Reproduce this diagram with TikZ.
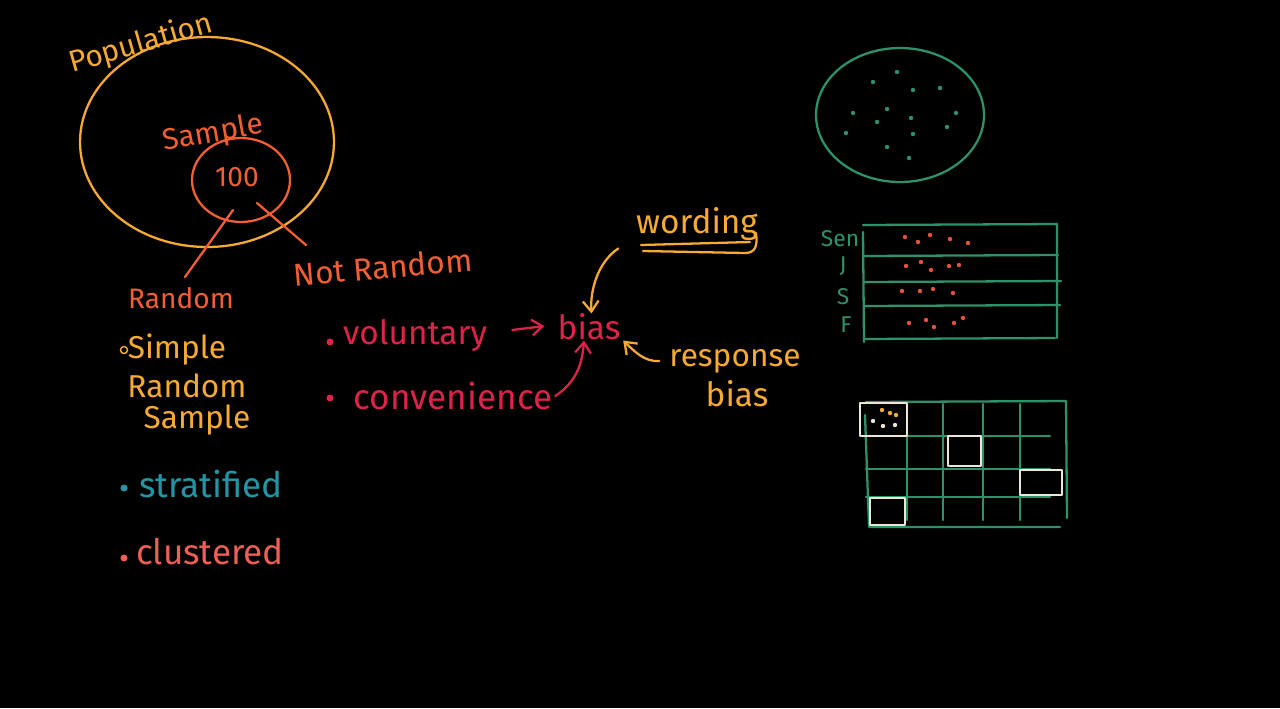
\documentclass[tikz,border=0pt]{standalone}
\usepackage{fontspec}
\setmainfont{Fira Sans}
\usetikzlibrary{arrows.meta}

\definecolor{popcol}{RGB}{247,170,50}
\definecolor{smpcol}{RGB}{242,95,50}
\definecolor{biascol}{RGB}{222,35,75}
\definecolor{stratcol}{RGB}{35,150,165}
\definecolor{clustcol}{RGB}{238,95,85}
\definecolor{gridcol}{RGB}{45,145,105}
\definecolor{dotcol}{RGB}{232,80,60}
\definecolor{chalk}{RGB}{235,230,215}

\begin{document}
\begin{tikzpicture}[
    x=0.02cm, y=-0.02cm,
    hand/.style={font=\fontsize{18}{20}\selectfont, inner sep=0pt},
    small/.style={font=\fontsize{13}{14}\selectfont, inner sep=0pt, text=gridcol},
    stroke/.style={line width=1.3pt, line cap=round, line join=round},
    arrow/.style={stroke, -{Straight Barb[length=6pt,width=9pt]}},
    dot/.style={circle, fill, inner sep=0pt, minimum size=3pt},
    bullet/.style={circle, fill, inner sep=0pt, minimum size=4pt}
]
    \fill[black] (0,0) rectangle (1280,708);
    \useasboundingbox (0,0) rectangle (1280,708);

    % population and sample
    \draw[stroke, popcol] (207,142) ellipse [x radius=2.54cm, y radius=2.1cm];
    \node[hand, text=popcol, rotate=16, font=\fontsize{17}{18}\selectfont] (pop) at (141,44) {Population};
    \draw[stroke, smpcol] (241,180) ellipse [x radius=0.98cm, y radius=0.84cm];
    \node[hand, text=smpcol, rotate=10, font=\fontsize{17}{18}\selectfont] (sample) at (213,134) {Sample};
    \node[hand, text=smpcol, font=\fontsize{16}{18}\selectfont] (count) at (237,177) {100};

    \node[hand, text=smpcol, font=\fontsize{16}{18}\selectfont] (random) at (181,298) {Random};
    \node[hand, text=smpcol, rotate=5] (notrandom) at (383,267) {Not Random};
    \coordinate (rndin) at (233,210);
    \coordinate (rndend) at (185,277);
    \coordinate (notin) at (257,203);
    \coordinate (notend) at (306,245);
    \draw[stroke, smpcol] (rndin) -- (rndend);
    \draw[stroke, smpcol] (notin) -- (notend);

    % sampling methods
    \node[circle, draw=popcol, line width=0.8pt, inner sep=0pt, minimum size=4pt] (b1) at (124,350) {};
    \node[hand, text=popcol] (simple) at (177,350) {Simple};
    \node[hand, text=popcol] (srs) at (187,386) {Random};
    \node[hand, text=popcol] (srs2) at (197,420) {Sample};
    \node[bullet, stratcol] (b2) at (124,488) {};
    \node[hand, text=stratcol, font=\fontsize{20}{22}\selectfont] (strat) at (211,484) {stratified};
    \node[bullet, clustcol] (b3) at (124,558) {};
    \node[hand, text=clustcol, font=\fontsize{20}{22}\selectfont] (clust) at (210,552) {clustered};

    % bias
    \node[bullet, biascol] (b4) at (330,342) {};
    \node[hand, text=biascol, font=\fontsize{19}{20}\selectfont] (volun) at (415,336) {voluntary};
    \node[bullet, biascol] (b5) at (330,398) {};
    \node[hand, text=biascol, font=\fontsize{20}{22}\selectfont] (conv) at (453,396) {convenience};
    \node[hand, text=biascol, font=\fontsize{19}{20}\selectfont] (bias) at (589,327) {bias};
    \node[hand, text=popcol, font=\fontsize{19}{20}\selectfont] (wording) at (697,224) {wording};
    \node[hand, text=popcol] (resp) at (735,361) {response};
    \node[hand, text=popcol, font=\fontsize{19}{20}\selectfont] (respbias) at (737,394) {bias};

    \draw[arrow, biascol] ([xshift=0.5cm, yshift=0.12cm]volun.east) -- ([xshift=-0.26cm, yshift=0.02cm]bias.west);
    \draw[arrow, biascol] ([xshift=0.05cm]conv.east) .. controls (575,383) and (582,366) .. ([xshift=-0.1cm]bias.south);
    \draw[arrow, popcol] ([xshift=-0.35cm,yshift=-0.15cm]wording.south west) .. controls (598,262) and (590,290) .. ([xshift=0.05cm]bias.north);
    \draw[arrow, popcol] ([xshift=-0.2cm]resp.west) .. controls (645,362) and (635,352) .. ([xshift=0.05cm]bias.south east);
    \draw[stroke, popcol] (641,245) -- (750,242);
    \draw[stroke, popcol] (643,251) -- (745,253) .. controls (755,253) and (758,246) .. (756,233);

    % population of dots
    \draw[stroke, gridcol] (900,115) ellipse [x radius=1.68cm, y radius=1.34cm];
    \foreach \px/\py in {897/72, 873/82, 913/90, 940/88, 853/113, 887/109, 877/122, 911/118,
                         956/113, 947/127, 846/133, 913/134, 887/147, 909/158}
        \node[dot, gridcol, minimum size=2.5pt] at (\px,\py) {};

    % strata
    \draw[stroke, gridcol] (863,225) -- (1057,224) -- (1057,338);
    \draw[stroke, gridcol] (863,232) -- (864,342);
    \foreach \ly/\lx in {256/1058, 282/1061, 306/1060, 339/1055}
        \draw[stroke, gridcol] (864,\ly) -- (\lx,\ly-1);
    \node[small] (sen) at (840,239) {Sen};
    \node[small] (jun) at (843,266) {J};
    \node[small] (sop) at (843,297) {S};
    \node[small] (fre) at (846,325) {F};
    \foreach \px/\py in {905/237, 918/242, 930/235, 950/239, 968/243,
                         906/266, 921/262, 931/270, 949/266, 959/265,
                         902/291, 920/291, 933/289, 953/293,
                         909/323, 926/320, 934/327, 954/323, 963/318}
        \node[dot, dotcol, minimum size=2.5pt] at (\px,\py) {};

    % clusters
    \draw[stroke, gridcol] (866,402) -- (1066,401) -- (1067,518);
    \draw[stroke, gridcol] (865,415) -- (869,527) -- (1060,527);
    \foreach \vx in {907, 943, 983, 1020}
        \draw[stroke, gridcol] (\vx,404) -- (\vx,520);
    \foreach \hy in {436, 469, 497}
        \draw[stroke, gridcol] (866,\hy) -- (1050,\hy);
    \foreach \ax/\ay/\bx/\by in {860/403/907/436, 948/436/981/466, 1020/470/1062/495, 870/498/905/525}
        \draw[stroke, chalk] (\ax,\ay) rectangle (\bx,\by);
    \foreach \px/\py in {882/410, 890/413, 896/415}
        \node[dot, popcol, minimum size=2.5pt] at (\px,\py) {};
    \foreach \px/\py in {873/421, 883/426, 895/425}
        \node[dot, chalk, minimum size=2.5pt] at (\px,\py) {};
\end{tikzpicture}
\end{document}
